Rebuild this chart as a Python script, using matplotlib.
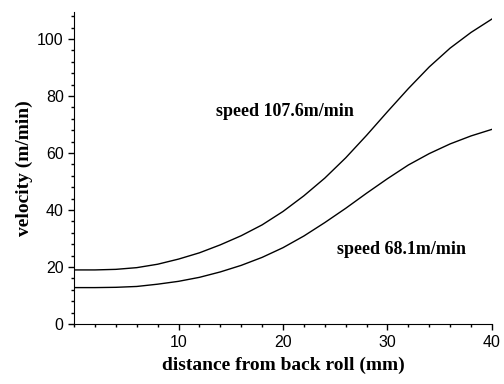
import matplotlib
matplotlib.use('Agg')
import matplotlib.pyplot as plt
from matplotlib.ticker import MultipleLocator

# distance from back roll (mm)
dist = [0, 2, 4, 6, 8, 10, 12, 14, 16, 18, 20, 22, 24, 26, 28, 30, 32, 34, 36, 38, 40]
# speed 107.6 m/min
v_fast = [19.0, 19.0, 19.2, 19.8, 21.0, 22.8, 25.0, 27.8, 31.0, 34.8, 39.5,
          45.0, 51.2, 58.3, 66.2, 74.5, 82.6, 90.2, 96.8, 102.3, 107.0]
# speed 68.1 m/min
v_slow = [12.8, 12.8, 12.9, 13.2, 14.0, 15.0, 16.4, 18.3, 20.6, 23.4, 26.8,
          30.9, 35.6, 40.6, 45.9, 51.0, 55.8, 59.8, 63.2, 66.0, 68.3]

serif = {'family': 'Liberation Serif', 'weight': 'bold'}

fig = plt.figure(figsize=(5.04, 3.84), dpi=100)
ax = fig.add_axes([0.147, 0.156, 0.829, 0.813])

ax.plot(dist, v_fast, color='black', lw=1.0)
ax.plot(dist, v_slow, color='black', lw=1.0)

ax.set_xlim(0, 40)
ax.set_ylim(0, 109.5)
ax.set_xticks([10, 20, 30, 40])
ax.set_yticks([0, 20, 40, 60, 80, 100])
ax.xaxis.set_minor_locator(MultipleLocator(2))
ax.yaxis.set_minor_locator(MultipleLocator(4))
ax.tick_params(which='major', direction='out', length=4, width=1, labelsize=11.5)
ax.tick_params(which='minor', direction='out', length=2, width=1)
for lbl in ax.get_xticklabels() + ax.get_yticklabels():
    lbl.set_family('Liberation Sans')

ax.spines['top'].set_visible(False)
ax.spines['right'].set_visible(False)

ax.text(13.6, 74.5, 'speed 107.6m/min', fontsize=13, va='center', fontdict=serif)
ax.text(25.2, 26.2, 'speed 68.1m/min', fontsize=13, va='center', fontdict=serif)

ax.set_xlabel('distance from back roll (mm)', fontdict=serif, fontsize=14, labelpad=5)
ax.set_ylabel('velocity (m/min)', fontdict=serif, fontsize=14, labelpad=3)

fig.savefig('out.png', dpi=100)
